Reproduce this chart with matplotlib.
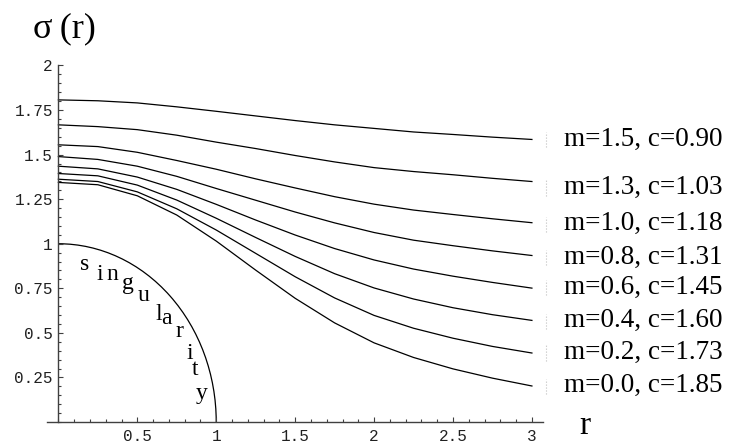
import matplotlib
matplotlib.use("Agg")
import matplotlib.pyplot as plt
from matplotlib.patches import Arc
from matplotlib.ticker import MultipleLocator, FixedLocator

r_vals = [0.0, 0.25, 0.5, 0.75, 1.0, 1.25, 1.5, 1.75, 2.0, 2.25, 2.5, 2.75, 3.0]

sigma_m15 = [1.807, 1.802, 1.790, 1.768, 1.743, 1.717, 1.691, 1.667, 1.647, 1.627, 1.613, 1.598, 1.585]
sigma_m13 = [1.667, 1.657, 1.640, 1.609, 1.570, 1.534, 1.495, 1.459, 1.427, 1.405, 1.387, 1.367, 1.349]
sigma_m10 = [1.555, 1.545, 1.513, 1.467, 1.418, 1.364, 1.313, 1.264, 1.222, 1.189, 1.164, 1.140, 1.118]
sigma_m08 = [1.489, 1.473, 1.435, 1.378, 1.310, 1.244, 1.178, 1.117, 1.063, 1.020, 0.989, 0.960, 0.934]
sigma_m06 = [1.435, 1.420, 1.374, 1.305, 1.221, 1.133, 1.049, 0.973, 0.909, 0.858, 0.818, 0.783, 0.751]
sigma_m04 = [1.394, 1.381, 1.329, 1.245, 1.143, 1.035, 0.929, 0.832, 0.752, 0.690, 0.641, 0.602, 0.570]
sigma_m02 = [1.362, 1.349, 1.291, 1.196, 1.077, 0.946, 0.815, 0.696, 0.598, 0.526, 0.470, 0.424, 0.387]
sigma_m00 = [1.344, 1.331, 1.269, 1.161, 1.015, 0.852, 0.694, 0.556, 0.444, 0.362, 0.298, 0.246, 0.202]

curves = [sigma_m15, sigma_m13, sigma_m10, sigma_m08, sigma_m06, sigma_m04, sigma_m02, sigma_m00]
curve_labels = ["m=1.5, c=0.90", "m=1.3, c=1.03", "m=1.0, c=1.18", "m=0.8, c=1.31",
                "m=0.6, c=1.45", "m=0.4, c=1.60", "m=0.2, c=1.73", "m=0.0, c=1.85"]
label_baseline = [1.551, 1.280, 1.075, 0.888, 0.720, 0.533, 0.355, 0.168]

x_ticks = [0.5, 1, 1.5, 2, 2.5, 3]
x_ticklabels = ["0.5", "1", "1.5", "2", "2.5", "3"]
y_ticks = [0.25, 0.5, 0.75, 1, 1.25, 1.5, 1.75, 2]
y_ticklabels = ["0.25", "0.5", "0.75", "1", "1.25", "1.5", "1.75", "2"]

# letters of "singularity" along the arc (x, baseline y)
sing_letters = list("singularity")
sing_x = [0.169, 0.264, 0.344, 0.443, 0.538, 0.637, 0.686, 0.764, 0.834, 0.865, 0.907]
sing_y = [0.854, 0.798, 0.795, 0.748, 0.681, 0.574, 0.551, 0.476, 0.354, 0.261, 0.131]

SERIF = ["Liberation Serif", "DejaVu Serif"]
MONO = ["Liberation Mono", "DejaVu Sans Mono"]
AXIS_COLOR = "#404040"

fig = plt.figure(figsize=(7.44, 4.43), dpi=100)
ax = fig.add_axes([0.0632, 0.0474, 0.6666, 0.806])

for ys in curves:
    ax.plot(r_vals, ys, color="black", lw=0.9, solid_joinstyle="round")

# singularity boundary: unit quarter circle
ax.add_patch(Arc((0, 0), 2, 2, theta1=0, theta2=90, color="black", lw=0.9))

for ch, sx, sy in zip(sing_letters, sing_x, sing_y):
    ax.text(sx, sy, ch, family=SERIF, fontsize=17, ha="center", va="baseline")

for lab, yb in zip(curve_labels, label_baseline):
    ax.plot([3.088, 3.088], [yb - 0.01, yb + 0.075], color="#c0c0c0", lw=0.8,
            ls=":", clip_on=False)
    ax.text(3.205, yb, lab, family=SERIF, fontsize=19.5, ha="left", va="baseline",
            clip_on=False)

ax.text(-0.16, 2.156, "σ\u2009(r)", family=SERIF, fontsize=26, ha="left", va="baseline",
        clip_on=False)
ax.text(3.30, -0.07, "r", family=SERIF, fontsize=24, ha="left", va="baseline",
        clip_on=False)

ax.set_xlim(-0.072, 3.07)
ax.set_ylim(0, 2.003)

for side in ["top", "right"]:
    ax.spines[side].set_visible(False)
ax.spines["left"].set_position(("data", 0))
ax.spines["bottom"].set_position(("data", 0))
for side in ["left", "bottom"]:
    ax.spines[side].set_color(AXIS_COLOR)
    ax.spines[side].set_linewidth(1.0)
ax.spines["left"].set_bounds(0, 2.0)

ax.xaxis.set_major_locator(FixedLocator(x_ticks))
ax.set_xticklabels(x_ticklabels)
ax.xaxis.set_minor_locator(MultipleLocator(0.1))
ax.yaxis.set_major_locator(FixedLocator(y_ticks))
ax.set_yticklabels(y_ticklabels)
ax.yaxis.set_minor_locator(MultipleLocator(0.05))

ax.tick_params(which="both", direction="in", color=AXIS_COLOR, width=0.8)
ax.tick_params(which="major", length=3.6)
ax.tick_params(which="minor", length=2.0)
ax.tick_params(axis="x", which="major", pad=5)
ax.tick_params(axis="y", which="major", pad=4)
for lbl in ax.get_xticklabels() + ax.get_yticklabels():
    lbl.set_family(MONO)
    lbl.set_fontsize(11.5)
    lbl.set_color("#202020")

fig.savefig("out.png", dpi=100)
